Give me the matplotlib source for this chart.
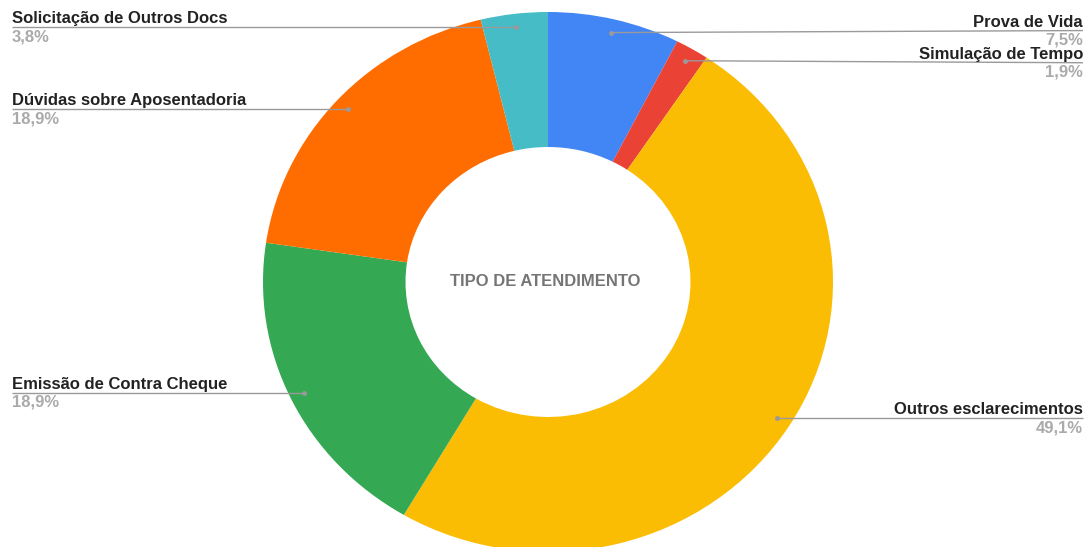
import numpy as np
import matplotlib
matplotlib.use("Agg")
import matplotlib.pyplot as plt

plt.rcParams['font.family'] = ['Liberation Sans', 'DejaVu Sans']

# data
categories = ['Prova de Vida', 'Simulação de Tempo', 'Outros esclarecimentos',
              'Emissão de Contra Cheque', 'Dúvidas sobre Aposentadoria',
              'Solicitação de Outros Docs']
values = [7.5, 1.9, 49.1, 18.9, 18.9, 3.8]
colors = ['#4285F4', '#EA4335', '#FBBC04', '#34A853', '#FF6D01', '#46BDC6']
title = 'TIPO DE ATENDIMENTO'

# layout in pixels (chart is slightly stretched horizontally)
W, H = 1087, 547
CX, CY, RX, RY = 548, 282, 285, 270
# small vertical nudges (px) so the two close labels on the right don't collide
nudge = {'Prova de Vida': 2, 'Simulação de Tempo': -2}

fig = plt.figure(figsize=(W / 100, H / 100), dpi=100)
ax = fig.add_axes([0, 0, 1, 1])
ax.pie(values, colors=colors, startangle=90, counterclock=False,
       wedgeprops=dict(width=0.5, edgecolor='none', linewidth=0))
ax.set_aspect('auto')
ax.set_xlim(-CX / RX, (W - CX) / RX)
ax.set_ylim((CY - H) / RY, CY / RY)
ax.axis('off')

ax.text(-3 / RX, 0, title, ha='center', va='center', fontsize=12,
        fontweight='bold', color='#757575')

total = sum(values)
cum = 0
for name, v in zip(categories, values):
    mid = np.deg2rad(90 - 360 * (cum + v / 2) / total)
    cum += v
    dx, dy = 0.95 * np.cos(mid), 0.95 * np.sin(mid)
    ly = dy + nudge.get(name, 0) / RY
    if dx < 0:
        ex, ha = (12 - CX) / RX, 'left'
    else:
        ex, ha = (1083 - CX) / RX, 'right'
    ax.plot([dx, ex], [dy, ly], color='#9a9a9a', lw=1.0, solid_capstyle='butt')
    ax.plot(dx, dy, 'o', color='#9a9a9a', ms=2.5)
    ax.text(ex, ly + 4 / RY, name, ha=ha, va='baseline', fontsize=12,
            fontweight='bold', color='#222222')
    pct = f"{v:.1f}%".replace('.', ',')
    ax.text(ex, ly - 14 / RY, pct, ha=ha, va='baseline', fontsize=12,
            fontweight='bold', color='#aaaaaa')

fig.savefig('out.png', dpi=100)
